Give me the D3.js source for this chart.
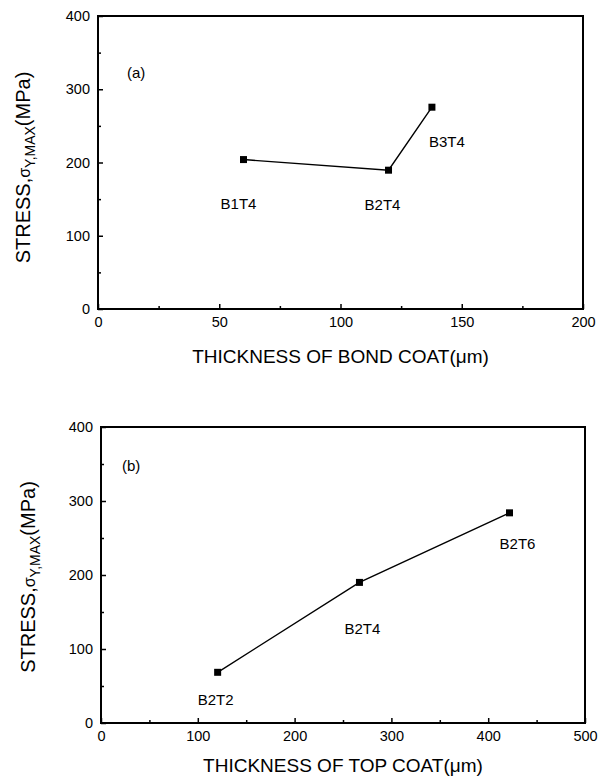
<!DOCTYPE html>
<html>
<head>
<meta charset="utf-8">
<script src="https://cdnjs.cloudflare.com/ajax/libs/d3/7.8.5/d3.min.js"></script>
<style>
    body { margin: 0; background: #fff; }
    svg text { font-family: "Liberation Sans", Arial, Helvetica, sans-serif; fill: #000; }
</style>
</head>
<body>
<svg id="chart" width="606" height="778"></svg>
<script>
// panel (a): bond coat thickness
var bondThickness = [60, 119.8, 137.7];
var bondStress    = [204, 189.5, 275.5];
var bondNames     = ['B1T4', 'B2T4', 'B3T4'];
var bondXTicks    = [0, 50, 100, 150, 200];
var bondXMinor    = [25, 75, 125, 175];

// panel (b): top coat thickness
var topThickness = [120.5, 267, 422];
var topStress    = [68.5, 190, 284];
var topNames     = ['B2T2', 'B2T4', 'B2T6'];
var topXTicks    = [0, 100, 200, 300, 400, 500];
var topXMinor    = [50, 150, 250, 350, 450];

var stressTicks = [0, 100, 200, 300, 400];
var stressMinor = [50, 150, 250, 350];

var svg = d3.select('#chart');

function drawPanel(p) {
    var x = d3.scaleLinear().domain(p.xDomain).range([p.left, p.right]);
    var y = d3.scaleLinear().domain([0, 400]).range([p.bottom, p.top]);
    var g = svg.append('g');

    // ticks point inward
    g.append('g')
        .attr('transform', `translate(0, ${ p.bottom })`)
        .call(d3.axisBottom(x).tickValues(p.xTicks).tickSizeInner(-5).tickSizeOuter(0).tickPadding(8))
        .call(a => a.select('.domain').remove())
        .call(a => a.selectAll('text').attr('font-size', 14.5).attr('font-family', null))
        .call(a => a.selectAll('line').attr('stroke-width', 1.5))
    ;
    g.append('g')
        .attr('transform', `translate(0, ${ p.bottom })`)
        .call(d3.axisBottom(x).tickValues(p.xMinor).tickSizeInner(-3).tickSizeOuter(0).tickFormat(''))
        .call(a => a.select('.domain').remove())
        .call(a => a.selectAll('line').attr('stroke-width', 1.5))
    ;
    g.append('g')
        .attr('transform', `translate(${ p.left }, 0)`)
        .call(d3.axisLeft(y).tickValues(stressTicks).tickSizeInner(-5).tickSizeOuter(0).tickPadding(8))
        .call(a => a.select('.domain').remove())
        .call(a => a.selectAll('text').attr('font-size', 14.5).attr('font-family', null))
        .call(a => a.selectAll('line').attr('stroke-width', 1.5))
    ;
    g.append('g')
        .attr('transform', `translate(${ p.left }, 0)`)
        .call(d3.axisLeft(y).tickValues(stressMinor).tickSizeInner(-3).tickSizeOuter(0).tickFormat(''))
        .call(a => a.select('.domain').remove())
        .call(a => a.selectAll('line').attr('stroke-width', 1.5))
    ;

    g.append('rect')
        .attr('x', p.left)
        .attr('y', p.top)
        .attr('width', p.right - p.left)
        .attr('height', p.bottom - p.top)
        .attr('fill', 'none')
        .attr('stroke', '#000')
        .attr('stroke-width', 2)
    ;

    var pts = p.xs.map((v, i) => ({ x: v, y: p.ys[i], name: p.names[i], off: p.labelOff[i] }));

    g.append('path')
        .datum(pts)
        .attr('fill', 'none')
        .attr('stroke', '#000')
        .attr('stroke-width', 1.4)
        .attr('d', d3.line().x(d => x(d.x)).y(d => y(d.y)))
    ;

    g.selectAll('.marker')
        .data(pts)
        .enter().append('rect')
        .attr('class', 'marker')
        .attr('x', d => x(d.x) - 3.5)
        .attr('y', d => y(d.y) - 3.5)
        .attr('width', 7)
        .attr('height', 7)
        .attr('fill', '#000')
    ;

    g.selectAll('.pt-label')
        .data(pts)
        .enter().append('text')
        .attr('class', 'pt-label')
        .attr('text-anchor', 'middle')
        .attr('font-size', 15)
        .attr('x', d => x(d.x) + d.off[0])
        .attr('y', d => y(d.y) + d.off[1] + 5)
        .text(d => d.name)
    ;

    g.append('text')
        .attr('x', p.tag[0])
        .attr('y', p.tag[1])
        .attr('font-size', 15)
        .text(p.tagText)
    ;

    g.append('text')
        .attr('text-anchor', 'middle')
        .attr('font-size', 19)
        .attr('x', (p.left + p.right) / 2)
        .attr('y', p.bottom + p.xTitleGap)
        .text(p.xTitle)
    ;

    var yt = g.append('text')
        .attr('text-anchor', 'middle')
        .attr('font-size', 20)
        .attr('transform', `translate(${ p.yTitleX }, ${ (p.top + p.bottom) / 2 + p.yTitleShift }) rotate(-90)`)
    ;
    yt.append('tspan').text('STRESS,');
    yt.append('tspan').attr('font-size', 16).text('σ');
    yt.append('tspan').attr('font-size', 14).attr('dy', 5).text('Y,MAX');
    yt.append('tspan').attr('dy', -5).text('(MPa)');
}

drawPanel({
    left: 98, right: 583, top: 16, bottom: 309,
    xDomain: [0, 200], xTicks: bondXTicks, xMinor: bondXMinor,
    xs: bondThickness, ys: bondStress, names: bondNames,
    labelOff: [[-5, 44], [-6, 35], [15, 35]],
    tag: [127, 78], tagText: '(a)',
    xTitle: 'THICKNESS OF BOND COAT(\u03bcm)', xTitleGap: 54,
    yTitleX: 30, yTitleShift: 5
});

drawPanel({
    left: 101, right: 585, top: 427, bottom: 723,
    xDomain: [0, 500], xTicks: topXTicks, xMinor: topXMinor,
    xs: topThickness, ys: topStress, names: topNames,
    labelOff: [[-2, 28], [3, 47], [8, 31]],
    tag: [122, 471], tagText: '(b)',
    xTitle: 'THICKNESS OF TOP COAT(\u03bcm)', xTitleGap: 49,
    yTitleX: 35, yTitleShift: 2
});
</script>
</body>
</html>
